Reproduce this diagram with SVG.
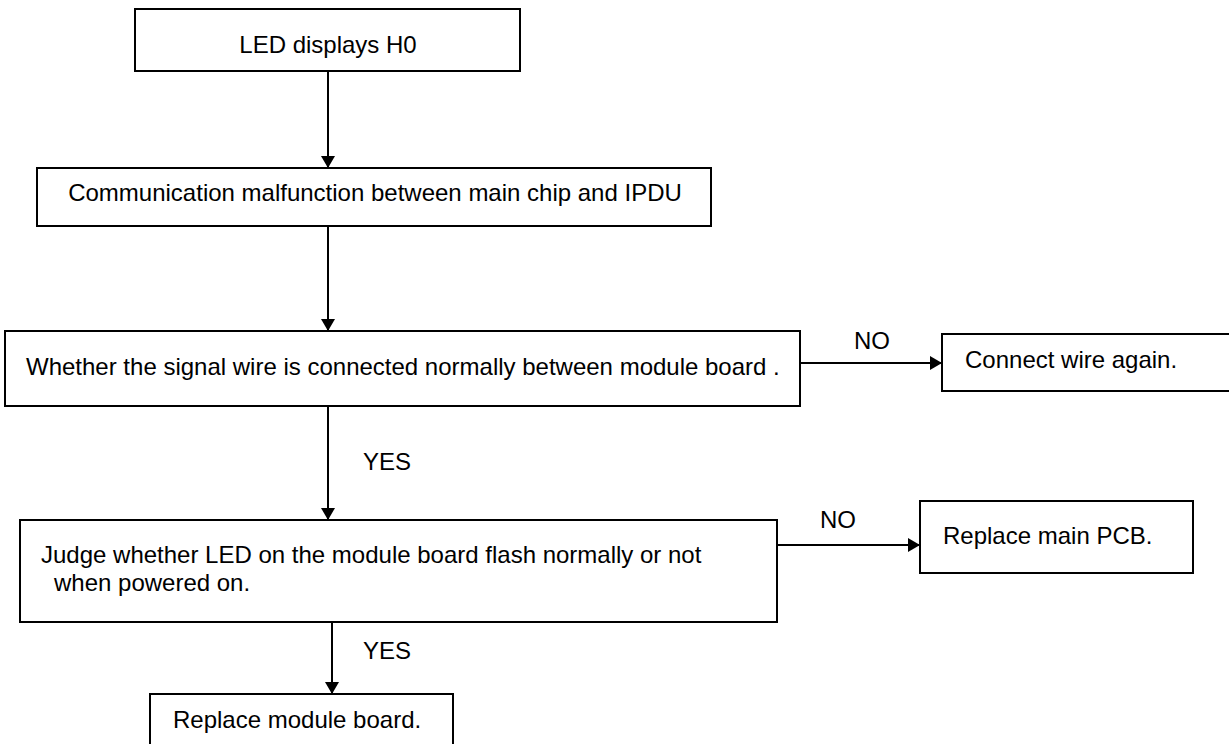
<svg xmlns="http://www.w3.org/2000/svg" width="1229" height="744" viewBox="0 0 1229 744">
<style>
.box{fill:#fff;stroke:#000;stroke-width:2}
.t{font-family:"Liberation Sans",Arial,sans-serif;font-size:24px;fill:#000}
.c{text-anchor:middle}
.ln{stroke:#000;stroke-width:2;fill:none}
</style>
<defs>
<marker id="ah" viewBox="0 0 12 14" refX="12" refY="7" markerWidth="12" markerHeight="14" markerUnits="userSpaceOnUse" orient="auto">
<path d="M0,0 L12,7 L0,14 Z" fill="#000"/>
</marker>
</defs>
<rect width="1229" height="744" fill="#fff"/>
<g id="connectors">
<line class="ln" x1="328" y1="71" x2="328" y2="168" marker-end="url(#ah)"/>
<line class="ln" x1="328" y1="226" x2="328" y2="331" marker-end="url(#ah)"/>
<line class="ln" x1="328" y1="406" x2="328" y2="520" marker-end="url(#ah)"/>
<line class="ln" x1="332" y1="622" x2="332" y2="694" marker-end="url(#ah)"/>
<line class="ln" x1="800" y1="363" x2="942" y2="363" marker-end="url(#ah)"/>
<line class="ln" x1="777" y1="545" x2="920" y2="545" marker-end="url(#ah)"/>
<text class="t c" x="872" y="349">NO</text>
<text class="t c" x="838" y="528">NO</text>
<text class="t" x="363" y="470">YES</text>
<text class="t" x="363" y="659">YES</text>
</g>
<g id="n1"><rect class="box" x="135" y="9" width="385" height="62"/><text class="t c" x="328" y="53">LED displays H0</text></g>
<g id="n2"><rect class="box" x="37" y="168" width="674" height="58"/><text class="t c" x="375" y="201">Communication malfunction between main chip and IPDU</text></g>
<g id="n3"><rect class="box" x="5" y="331" width="795" height="75"/><text class="t" x="26" y="375">Whether the signal wire is connected normally between module board .</text></g>
<g id="n4"><rect class="box" x="942" y="334" width="300" height="57"/><text class="t" x="965" y="368">Connect wire again.</text></g>
<g id="n5"><rect class="box" x="20" y="520" width="757" height="102"/><text class="t" x="41" y="563">Judge whether LED on the module board flash normally or not</text><text class="t" x="54" y="591">when powered on.</text></g>
<g id="n6"><rect class="box" x="920" y="501" width="273" height="72"/><text class="t" x="943" y="544">Replace main PCB.</text></g>
<g id="n7"><rect class="box" x="150" y="694" width="303" height="60"/><text class="t" x="173" y="728">Replace module board.</text></g>
</svg>
